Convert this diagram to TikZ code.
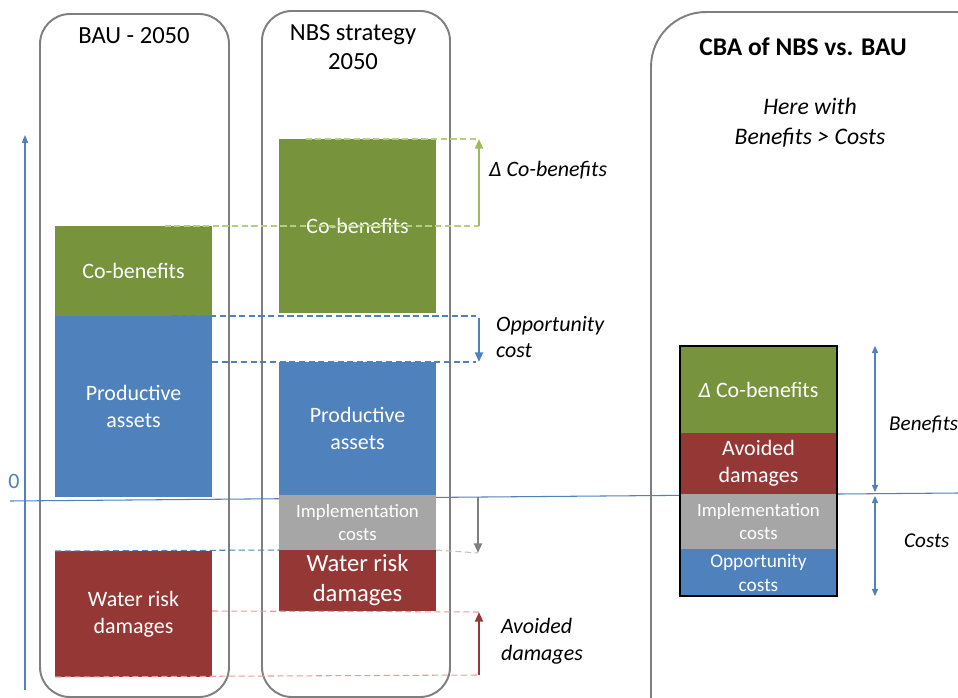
\documentclass[tikz,border=0pt]{standalone}
\usepackage{fontspec}
\setmainfont{Carlito}
\usetikzlibrary{arrows.meta}
\definecolor{cbgreen}{HTML}{77933C}
\definecolor{cbblue}{HTML}{4F81BD}
\definecolor{cbred}{HTML}{953735}
\definecolor{cbgrey}{HTML}{A6A6A6}
\definecolor{panelgrey}{HTML}{7F7F7F}
\definecolor{lightgreen}{HTML}{9BBB59}
\definecolor{dashgreen}{HTML}{B3CF7F}
\definecolor{dashred}{HTML}{E89A9A}
\definecolor{dashgrey}{HTML}{BFBFBF}
\tikzset{
  panel/.style={draw=panelgrey, line width=1.1pt, rounded corners=0.6cm},
  bar/.style={anchor=north west, minimum width=3.14cm, inner sep=0pt, outer sep=0pt,
    align=center, text=white, font=\fontsize{12.5}{15.3}\selectfont},
  small/.style={font=\fontsize{10.7}{13.6}\selectfont},
  note/.style={anchor=west, align=left, font=\fontsize{12.5}{15.3}\selectfont\itshape},
  guide/.style={dash pattern=on 3.5pt off 2pt, line width=0.6pt},
  delta/.style={line width=1.3pt, -{Triangle[length=5.5pt,width=4.5pt]}},
  axis/.style={draw=cbblue, line width=0.6pt},
}
\begin{document}
\begin{tikzpicture}[x=0.2mm,y=-0.2mm]
  \useasboundingbox (0,0) rectangle (958,698);
  \clip (0,0) rectangle (958,698);
  % panels
  \draw[panel] (40,14) rectangle (229,697);
  \draw[panel] (262,11) rectangle (450,697);
  \draw[panel, rounded corners=1.1cm] (651,12) rectangle (1010,760);
  \node[font=\fontsize{14}{16.4}\selectfont] (baut) at (134,36) {BAU - 2050};
  \node[align=center, font=\fontsize{14}{16.4}\selectfont] (nbst) at (353,47) {NBS strategy\\2050};
  \node[font=\fontsize{14.5}{17}\selectfont\bfseries] (cbat) at (803,47) {CBA of NBS vs. BAU};
  \node[align=center, font=\fontsize{13.5}{17}\selectfont\itshape] (cbas) at (810,123) {Here with\\Benefits > Costs};

  % axes
  \coordinate (yb) at (25,690);
  \coordinate (yt) at (25,135);
  \coordinate (xl) at (10,501);
  \coordinate (xr) at (958,493);
  \draw[axis, -{Triangle[length=4.5pt,width=3.5pt]}] (yb) -- (yt);
  \draw[axis] (xl) -- (xr);
  \node[text=cbblue, font=\fontsize{12.5}{15}\selectfont] (zero) at (14,481) {0};

  % BAU - 2050
  \node[bar, fill=cbgreen, minimum height=1.8cm] (bcob) at (55,226) {Co-benefits};
  \node[bar, fill=cbblue, minimum height=3.62cm] (bprod) at (55,316) {Productive\\assets};
  \node[bar, fill=cbred, minimum height=2.52cm] (bwat) at (55,551) {Water risk\\damages};

  % NBS strategy 2050
  \node[bar, fill=cbgreen, minimum height=3.48cm] (ncob) at (279,139) {Co-benefits};
  \node[bar, fill=cbblue, minimum height=2.66cm] (nprod) at (279,362) {Productive\\assets};
  \node[bar, small, fill=cbgrey, minimum height=1.1cm] (nimp) at (279,495) {Implementation\\costs};
  \node[bar, fill=cbred, minimum height=1.22cm, font=\fontsize{14}{17}\selectfont] (nwat) at (279,550) {Water risk\\damages};

  % differences
  \coordinate (gtop) at (479,139);
  \coordinate (gbot) at (479,226);
  \coordinate (otop) at (479,316);
  \coordinate (obot) at (479,362);
  \coordinate (itop) at (478,497);
  \coordinate (ibot) at (478,553);
  \coordinate (rtop) at (479,612);
  \coordinate (rbot) at (479,675);
  \draw[guide, draw=dashgreen] (ncob.north) ++(-52,0) -- (gtop);
  \draw[guide, draw=dashgreen] (bcob.north) ++(31,0) -- (gbot);
  \draw[delta, draw=lightgreen, fill=lightgreen] (gbot) -- (gtop);
  \draw[guide, draw=cbblue] (bprod.north) ++(38,0) -- ([xshift=-0.6mm]otop);
  \draw[guide, draw=cbblue] (bprod.east |- nprod.north) -- ([xshift=-0.6mm]obot);
  \draw[delta, draw=cbblue, fill=cbblue] ([yshift=-0.4mm]otop) -- (obot);
  \draw[guide, draw=dashgrey] (nimp.south east) -- (ibot);
  \draw[delta, draw=panelgrey, fill=panelgrey] (itop) -- (ibot);
  \draw[guide, draw=cbblue] (bwat.north west) -- (nwat.north west);
  \draw[guide, draw=dashred] (bwat.east |- nwat.south) -- (rtop);
  \draw[guide, draw=dashred] (bwat.south west) -- (rbot);
  \draw[delta, draw=cbred, fill=cbred] (rbot) -- (rtop);
  \node[note] (dcob) at (483,170) {Δ Co-benefits};
  \node[note] (dopp) at (490,337) {Opportunity\\cost};
  \node[note] (davo) at (495,641) {Avoided\\damages};

  % CBA of NBS vs. BAU
  \node[bar, fill=cbgreen, minimum height=1.74cm] (cdel) at (680,346) {{\itshape Δ} Co-benefits};
  \node[bar, fill=cbred, minimum height=1.22cm] (cavo) at (680,433) {Avoided\\damages};
  \node[bar, small, fill=cbgrey, minimum height=1.1cm] (cimp) at (680,494) {Implementation\\costs};
  \node[bar, small, fill=cbblue, minimum height=0.94cm, font=\fontsize{11}{13.6}\selectfont] (copp) at (680,549) {Opportunity\\costs};
  \draw[line width=1.2pt] (cdel.north west) rectangle (copp.south east);
  \coordinate (btop) at (875,346);
  \coordinate (bbot) at (875,492);
  \coordinate (ctop) at (875,496);
  \coordinate (cbot) at (875,596);
  \draw[draw=cbblue, line width=0.6pt, {Triangle[length=4pt,width=3.5pt]}-{Triangle[length=4pt,width=3.5pt]}] (btop) -- (bbot);
  \draw[draw=cbblue, line width=0.6pt, {Triangle[length=4pt,width=3.5pt]}-{Triangle[length=4pt,width=3.5pt]}] (ctop) -- (cbot);
  \node[note, font=\fontsize{12}{15}\selectfont\itshape] (bene) at (883,424) {Benefits};
  \node[note, font=\fontsize{12}{15}\selectfont\itshape] (cost) at (898,541) {Costs};
\end{tikzpicture}
\end{document}
